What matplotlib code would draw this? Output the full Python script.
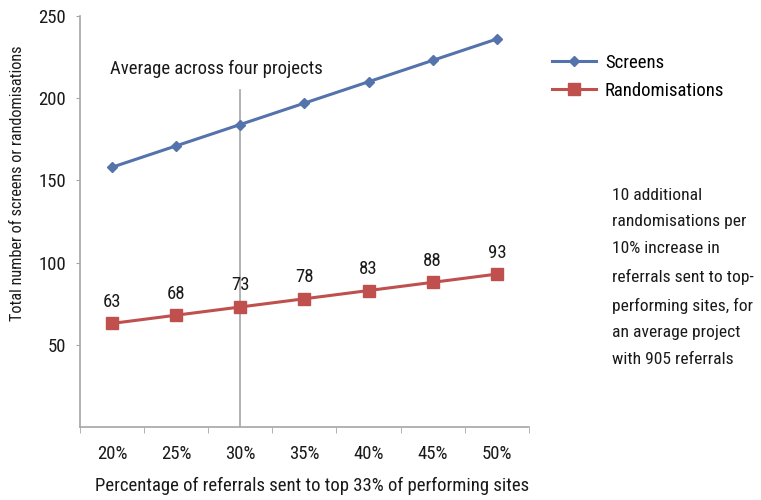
import matplotlib
matplotlib.use("Agg")
import matplotlib.pyplot as plt
from matplotlib import font_manager

# prefer a condensed sans face for all text
fams = {f.name for f in font_manager.fontManager.ttflist}
preferred = ["Roboto Condensed", "Archivo Narrow", "PT Sans Narrow", "Liberation Sans Narrow",
             "Fira Sans Condensed", "Encode Sans Condensed", "Barlow Condensed",
             "Open Sans Condensed", "Liberation Sans"]
base = next((f for f in preferred if f in fams), "DejaVu Sans")
plt.rcParams["font.family"] = [base, "DejaVu Sans"]

categories = ["20%", "25%", "30%", "35%", "40%", "45%", "50%"]
screens = [158, 171, 184, 197, 210, 223, 236]
randomisations = [63, 68, 73, 78, 83, 88, 93]
y_ticks = [50, 100, 150, 200, 250]

blue = "#5472ab"
red = "#c0504d"
axis_grey = "#a6a6a6"
text_col = "#1a1a1a"
fs = 13.5

fig = plt.figure(figsize=(7.61, 5.0), dpi=100)
ax = fig.add_axes([0.105, 0.146, 0.59, 0.822])

x = list(range(len(categories)))
ax.plot(x, screens, color=blue, lw=2.2, marker="D", ms=5, mfc=blue, mec=blue, label="Screens")
ax.plot(x, randomisations, color=red, lw=2.2, marker="s", ms=8, mfc=red, mec=red, label="Randomisations")

for xi, v in zip(x, randomisations):
    ax.annotate(str(v), (xi, v), xytext=(0, 9), textcoords="offset points",
                ha="center", va="bottom", fontsize=fs, color=text_col)

# reference line at 30%
ax.plot([2, 2], [0, 205], color=axis_grey, lw=1.2, zorder=0)
ax.text(1.62, 218, "Average across four projects", fontsize=fs, color=text_col,
        ha="center", va="center")

ax.set_xlim(-0.5, len(categories) - 0.5)
ax.set_ylim(0, 250)
ax.set_yticks(y_ticks)
ax.set_yticklabels([str(t) for t in y_ticks], fontsize=fs, color=text_col)
ax.set_xticks(x)
ax.set_xticklabels(categories, fontsize=fs, color=text_col)
ax.tick_params(axis="x", length=0, pad=13)
ax.set_xticks([i - 0.5 for i in range(len(categories) + 1)], minor=True)
ax.tick_params(axis="x", which="minor", length=4, color=axis_grey)
ax.tick_params(axis="y", length=3, color=axis_grey, pad=7)

for side in ("top", "right"):
    ax.spines[side].set_visible(False)
for side in ("left", "bottom"):
    ax.spines[side].set_color(axis_grey)
    ax.spines[side].set_linewidth(1.2)

fig.text(0.41, 0.028, "Percentage of referrals sent to top 33% of performing sites",
         fontsize=fs, color=text_col, ha="center", va="center")
fig.text(0.023, 0.634, "Total number of screens or randomisations", rotation=90,
         fontsize=11.7, color=text_col, ha="center", va="center")

ax.legend(loc="upper left", bbox_to_anchor=(0.726, 0.893), bbox_transform=fig.transFigure,
          frameon=False, fontsize=fs, handlelength=2.3, labelspacing=0.55, handletextpad=0.5,
          borderaxespad=0, borderpad=0)

fig.text(0.804, 0.625,
         "10 additional\nrandomisations per\n10% increase in\nreferrals sent to top-\nperforming sites, for\nan average project\nwith 905 referrals",
         fontsize=12.6, color=text_col, ha="left", va="top", linespacing=1.98)

fig.savefig("out.png", dpi=100)
